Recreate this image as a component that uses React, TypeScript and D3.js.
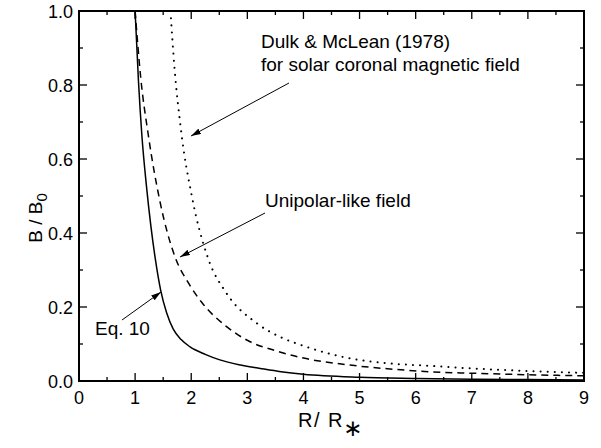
import * as d3 from "d3";

// values
const eq10R = [1.0, 1.06, 1.12, 1.2, 1.28, 1.36, 1.456, 1.56, 1.68, 1.82, 1.98, 2.25, 2.51, 2.85, 3.23, 3.6, 4.0, 5.0, 6.0, 7.0, 8.0, 9.0];
const eq10B = [1.0, 0.81, 0.665, 0.53, 0.42, 0.33, 0.245, 0.185, 0.14, 0.112, 0.092, 0.072, 0.057, 0.044, 0.034, 0.025, 0.018, 0.01, 0.007, 0.005, 0.004, 0.003];

const unipolarR = [1.0, 1.1, 1.235, 1.45, 1.71, 1.95, 2.19, 2.63, 3.05, 3.5, 4.0, 4.83, 5.5, 6.26, 7.0, 8.0, 9.0];
const unipolarB = [1.0, 0.82, 0.665, 0.48, 0.336, 0.265, 0.212, 0.147, 0.106, 0.082, 0.062, 0.043, 0.033, 0.025, 0.021, 0.017, 0.014];

const dulkR = [1.63, 1.7, 1.82, 2.01, 2.29, 2.63, 3.17, 3.6, 4.0, 4.83, 5.5, 6.26, 7.0, 8.0, 9.0];
const dulkB = [1.0, 0.85, 0.676, 0.5, 0.336, 0.237, 0.156, 0.118, 0.095, 0.061, 0.048, 0.041, 0.034, 0.027, 0.022];

const xTicks = [0, 1, 2, 3, 4, 5, 6, 7, 8, 9];
const yTicks = [0, 0.2, 0.4, 0.6, 0.8, 1.0];

const W = 601,
  H = 448;
const margin = { top: 11, right: 17, bottom: 67, left: 79 };
const font = "'Liberation Sans', Arial, sans-serif";

export default function App() {
  const x = d3.scaleLinear().domain([0, 9]).range([margin.left, W - margin.right]);
  const y = d3.scaleLinear().domain([0, 1]).range([H - margin.bottom, margin.top]);

  const line = d3
    .line<[number, number]>()
    .x((d) => x(d[0]))
    .y((d) => y(d[1]))
    .curve(d3.curveMonotoneX);

  const pts = (rs: number[], bs: number[]) => rs.map((r, i) => [r, bs[i]] as [number, number]);

  const minorX = d3.range(0, 9.01, 0.5);
  const minorY = d3.range(0, 1.001, 0.1);
  const x0 = x(0),
    x1 = x(9),
    y0 = y(0),
    y1 = y(1);

  const arrows = [
    { from: [289, 83], to: [191, 136] },
    { from: [265, 213], to: [180, 257] },
    { from: [122, 320], to: [161, 292] },
  ];

  return (
    <svg
      width={W}
      height={H}
      style={{ position: "absolute", left: 0, top: 0, background: "#fff" }}
      fontFamily={font}
    >
      <defs>
        <clipPath id="plot">
          <rect x={x0} y={y1} width={x1 - x0} height={y0 - y1} />
        </clipPath>
        <marker id="head" viewBox="0 0 10 6" refX="10" refY="3" markerWidth="10" markerHeight="6" markerUnits="userSpaceOnUse" orient="auto">
          <path d="M0,0 L10,3 L0,6 Z" fill="#000" />
        </marker>
      </defs>

      <g clipPath="url(#plot)" fill="none" stroke="#000" strokeWidth={1.5}>
        <path d={line(pts(eq10R, eq10B)) || ""} />
        <path d={line(pts(unipolarR, unipolarB)) || ""} strokeDasharray="7,5" />
        <path d={line(pts(dulkR, dulkB)) || ""} strokeDasharray="0.1,7" strokeLinecap="round" strokeWidth={2} />
      </g>

      {/* ticks, inward on all four sides */}
      <g stroke="#000" strokeWidth={1.3}>
        {minorX.map((v) => {
          const len = Number.isInteger(v) ? 8 : 4;
          return (
            <g key={"x" + v}>
              <line x1={x(v)} x2={x(v)} y1={y0} y2={y0 - len} />
              <line x1={x(v)} x2={x(v)} y1={y1} y2={y1 + len} />
            </g>
          );
        })}
        {minorY.map((v, i) => {
          const len = i % 2 === 0 ? 8 : 4;
          return (
            <g key={"y" + i}>
              <line x1={x0} x2={x0 + len} y1={y(v)} y2={y(v)} />
              <line x1={x1} x2={x1 - len} y1={y(v)} y2={y(v)} />
            </g>
          );
        })}
      </g>

      <rect x={x0} y={y1} width={x1 - x0} height={y0 - y1} fill="none" stroke="#000" strokeWidth={2} />

      <g fontSize={18} fill="#000">
        {xTicks.map((v) => (
          <text key={v} x={x(v)} y={y0 + 23} textAnchor="middle">
            {v}
          </text>
        ))}
        {yTicks.map((v) => (
          <text key={v} x={x0 - 6} y={y(v) + 6.5} textAnchor="end">
            {v.toFixed(1)}
          </text>
        ))}
      </g>

      <text x={298} y={427} fontSize={20}>
        <tspan letterSpacing={1.5}>R/ R</tspan>
        <tspan fontSize={23} dy={9} dx={-1} fontFamily="'DejaVu Sans', sans-serif">
          ∗
        </tspan>
      </text>

      <text transform={`translate(42,${(y0 + y1) / 2 + 22}) rotate(-90)`} fontSize={19} textAnchor="middle">
        B / B
        <tspan fontSize={15} dy={5}>
          0
        </tspan>
      </text>

      <g fontSize={19}>
        <text x={261} y={48}>Dulk &amp; McLean (1978)</text>
        <text x={261} y={71}>for solar coronal magnetic field</text>
        <text x={265} y={207}>Unipolar-like field</text>
        <text x={95} y={335}>Eq. 10</text>
      </g>

      <g stroke="#000" strokeWidth={1}>
        {arrows.map((a, i) => (
          <line key={i} x1={a.from[0]} y1={a.from[1]} x2={a.to[0]} y2={a.to[1]} markerEnd="url(#head)" />
        ))}
      </g>
    </svg>
  );
}
